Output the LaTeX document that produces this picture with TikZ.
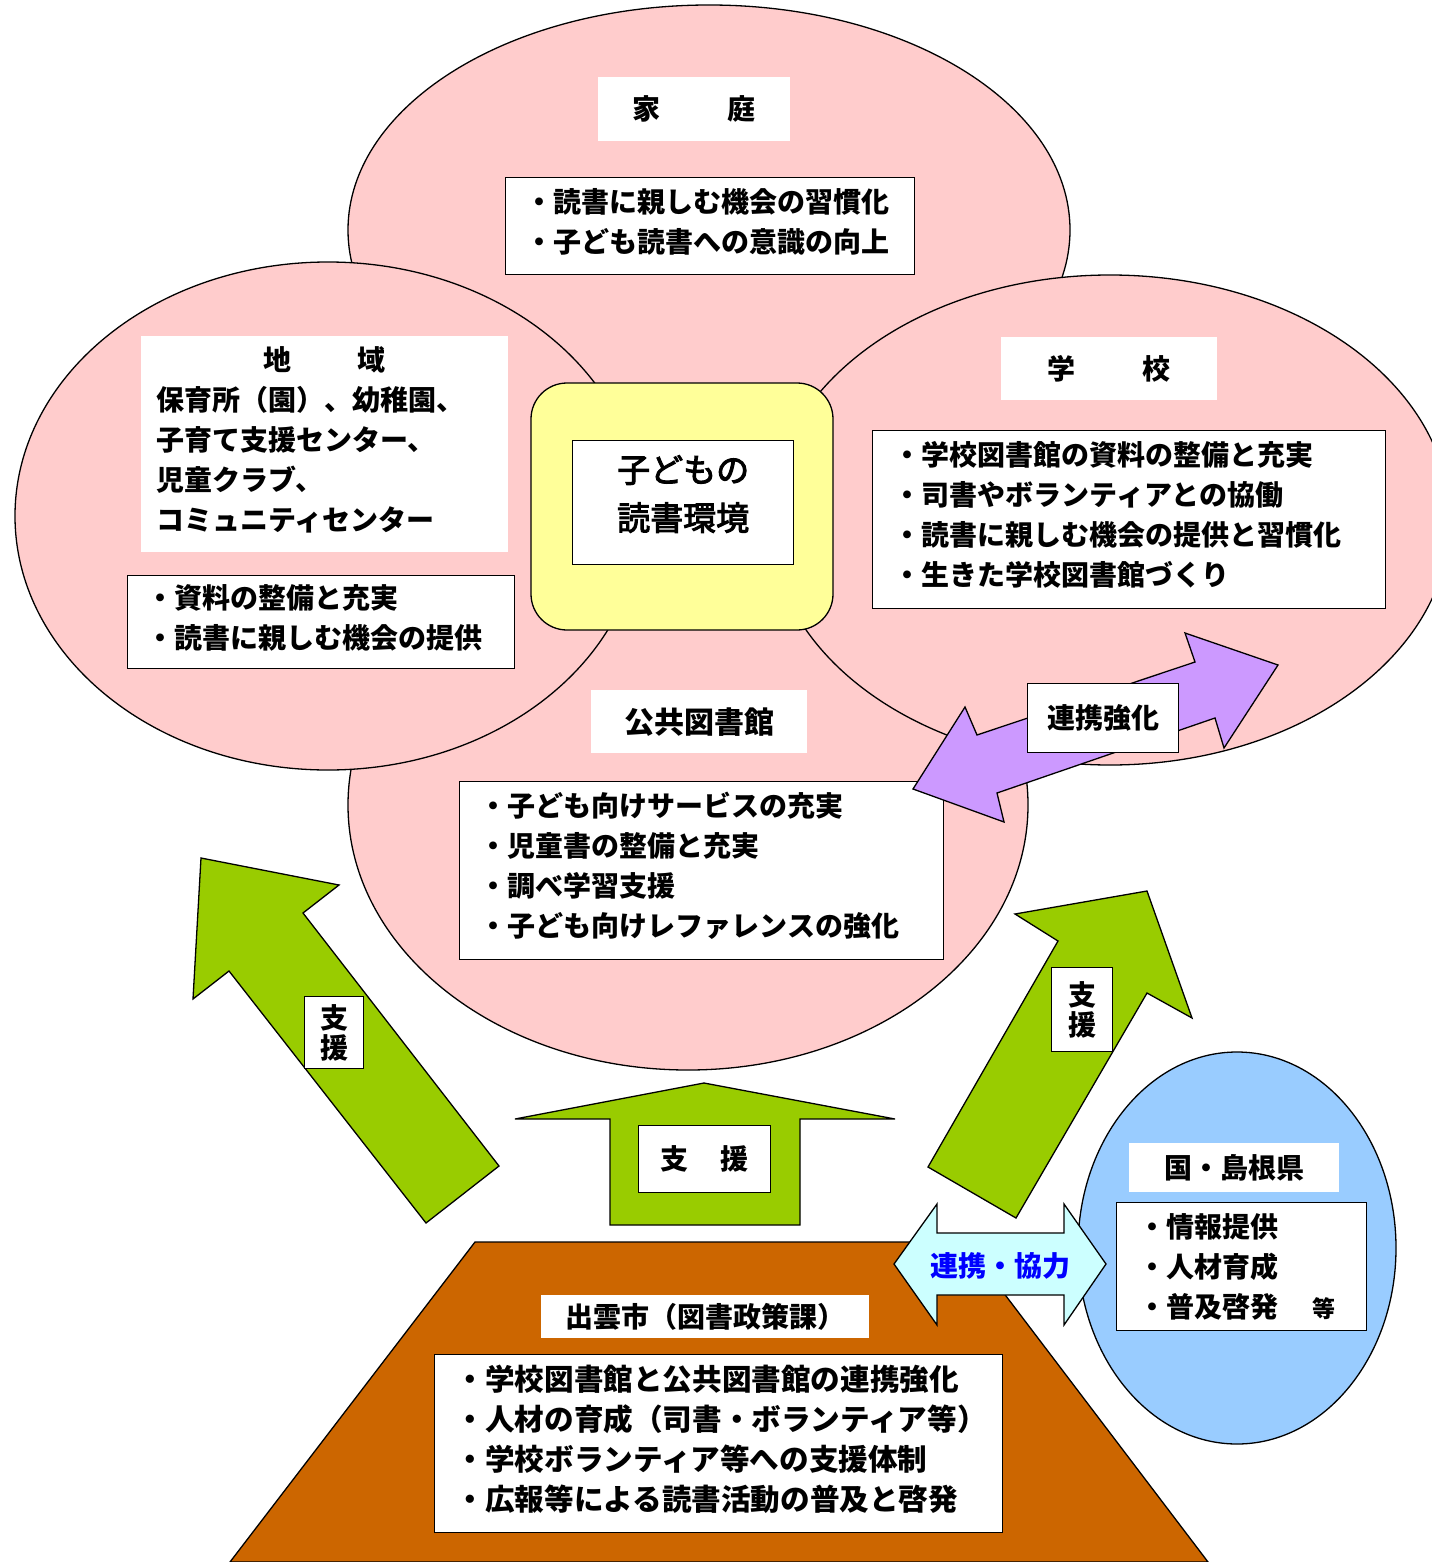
\documentclass[tikz,border=0pt]{standalone}
\usepackage{fontspec}
\setmainfont{Noto Sans CJK JP}
\newfontfamily\jpmedium{Noto Sans CJK JP}[FakeBold=3]
\newcommand\tailstrut{\rule[-12pt]{0pt}{1pt}}
\definecolor{pinkfill}{HTML}{FFCCCC}
\definecolor{yellowfill}{HTML}{FFFF99}
\definecolor{greenfill}{HTML}{99CC00}
\definecolor{purplefill}{HTML}{CC99FF}
\definecolor{brownfill}{HTML}{CC6600}
\definecolor{bluefill}{HTML}{99CCFF}
\definecolor{cyanfill}{HTML}{CCFFFF}
\definecolor{textblue}{HTML}{0000FF}
\begin{document}
\begin{tikzpicture}[x=1pt,y=-1pt,
  shapeline/.style={draw=black, line width=1.3pt},
  ellipsepink/.style={shapeline, fill=pinkfill},
  greenarrow/.style={shapeline, fill=greenfill},
  listbox/.style={draw=black, line width=1.4pt, fill=white, anchor=north west, align=left,
    inner ysep=0pt, font=\bfseries\fontsize{28}{40}\selectfont},
  titlebox/.style={fill=white, anchor=north west, align=center, inner sep=0pt,
    font=\bfseries\fontsize{28}{40}\selectfont},
  tagbox/.style={draw=black, line width=1.4pt, fill=white, anchor=north west, align=center,
    inner sep=0pt, font=\bfseries\fontsize{28}{30}\selectfont}
]
\useasboundingbox (0,0) rectangle (1431,1562);
\fill[white] (0,0) rectangle (1431,1562);

% four overlapping circles
\draw[ellipsepink] (709,230) ellipse [x radius=361, y radius=225];
\draw[ellipsepink] (688,805) ellipse [x radius=340, y radius=265];
\draw[ellipsepink] (328,516) ellipse [x radius=313, y radius=254];
\draw[ellipsepink] (1110,520) ellipse [x radius=340, y radius=245];

% centre
\draw[shapeline, fill=yellowfill, rounded corners=36pt] (531,383) rectangle (833,630);
\node[draw=black, line width=1.4pt, fill=white, anchor=north west, align=center,
  minimum width=221pt, minimum height=124pt, inner sep=0pt,
  font=\jpmedium\fontsize{33}{48}\selectfont] (core) at (572,440) {子どもの\\読書環境\rule[-20pt]{0pt}{1pt}};

% home
\node[titlebox, minimum width=192pt, minimum height=64pt] (famtitle) at (598,77) {家\hspace{67pt}庭};
\node[listbox, minimum height=97pt, inner xsep=20pt, text width=369pt] (famlist) at (505,177)
  {・読書に親しむ機会の習慣化\\・子ども読書への意識の向上\tailstrut};

% region
\node[titlebox, align=left, minimum width=367pt, minimum height=216pt, inner xsep=15pt, text width=337pt] (regtitle) at (141,336)
  {\makebox[337pt]{地\hspace{66pt}域}\\保育所（園）、幼稚園、\\子育て支援センター、\\児童クラブ、\\コミュニティセンター\tailstrut};
\node[listbox, minimum height=93pt, inner xsep=19pt, text width=349pt] (reglist) at (127,575)
  {・資料の整備と充実\\・読書に親しむ機会の提供\tailstrut};

% school
\node[titlebox, minimum width=216pt, minimum height=63pt] (schtitle) at (1001,337) {学\hspace{67pt}校};
\node[listbox, minimum height=178pt, inner xsep=21pt, text width=471pt] (schlist) at (872,430)
  {・学校図書館の資料の整備と充実\\・司書やボランティアとの協働\\・読書に親しむ機会の提供と習慣化\\・生きた学校図書館づくり\tailstrut};

% public library
\node[titlebox, minimum width=216pt, minimum height=63pt, font=\bfseries\fontsize{30}{40}\selectfont] (libtitle) at (591,690) {公共図書館};
\node[listbox, minimum height=178pt, inner xsep=20pt, text width=444pt] (liblist) at (459,781)
  {・子ども向けサービスの充実\\・児童書の整備と充実\\・調べ学習支援\\・子ども向けレファレンスの強化\tailstrut};

% cooperation arrow school <-> library
\draw[shapeline, fill=purplefill] (1278,665) -- (1224,748) -- (1215,718) -- (997,793) -- (1004,822)
  -- (913,789) -- (965,707) -- (977,735) -- (1195,662) -- (1185,633) -- cycle;
\node[tagbox, minimum width=151pt, minimum height=69pt] (renkei) at (1027,683) {連携強化};

% support arrows
\draw[greenarrow] (201,858) -- (339,885) -- (303,913) -- (499,1166) -- (426,1223) -- (229,971) -- (193,999) -- cycle;
\draw[greenarrow] (1147,891) -- (1192,1018) -- (1147,993) -- (1016,1218) -- (928,1167) -- (1058,941) -- (1015,914) -- cycle;
\draw[greenarrow] (704,1083) -- (895,1119) -- (800,1119) -- (800,1225) -- (610,1225) -- (610,1119) -- (515,1119) -- cycle;
\node[tagbox, minimum width=59pt, minimum height=72pt] (shienL) at (304,996) {支\\援};
\node[tagbox, minimum width=61pt, minimum height=84pt] (shienR) at (1051,967) {支\\援};
\node[tagbox, minimum width=132pt, minimum height=67pt] (shienM) at (638,1125) {支\hspace{32pt}援};

% city
\draw[shapeline, fill=brownfill] (475,1242) -- (965,1242) -- (1208,1562) -- (230,1562) -- cycle;
\node[titlebox, minimum width=328pt, minimum height=43pt] (citytitle) at (541,1295) {出雲市（図書政策課）};
\node[listbox, minimum height=178pt, inner xsep=21pt, text width=526pt,
  font=\bfseries\fontsize{29.6}{40}\selectfont] (citylist) at (434,1354)
  {・学校図書館と公共図書館の連携強化\\・人材の育成（司書・ボランティア等）\\・学校ボランティア等への支援体制\\・広報等による読書活動の普及と啓発\tailstrut};

% nation / prefecture
\draw[shapeline, fill=bluefill] (1237,1248) ellipse [x radius=159, y radius=196];
\node[titlebox, minimum width=210pt, minimum height=49pt] (kunititle) at (1129,1143) {国・島根県};
\node[listbox, minimum height=128pt, inner xsep=22pt, text width=206pt] (kunilist) at (1116,1202)
  {・情報提供\\・人材育成\\・普及啓発\hspace{34pt}{\fontsize{23}{40}\selectfont 等}};

% cooperation arrow city <-> nation
\draw[shapeline, fill=cyanfill] (894,1264) -- (937,1204) -- (937,1233) -- (1064,1233) -- (1064,1204)
  -- (1106,1264) -- (1064,1325) -- (1064,1295) -- (937,1295) -- (937,1325) -- cycle;
\node[text=textblue, font=\bfseries\fontsize{28}{30}\selectfont, inner sep=0pt] (kyoryoku) at (1000,1266) {連携・協力};
\end{tikzpicture}
\end{document}
